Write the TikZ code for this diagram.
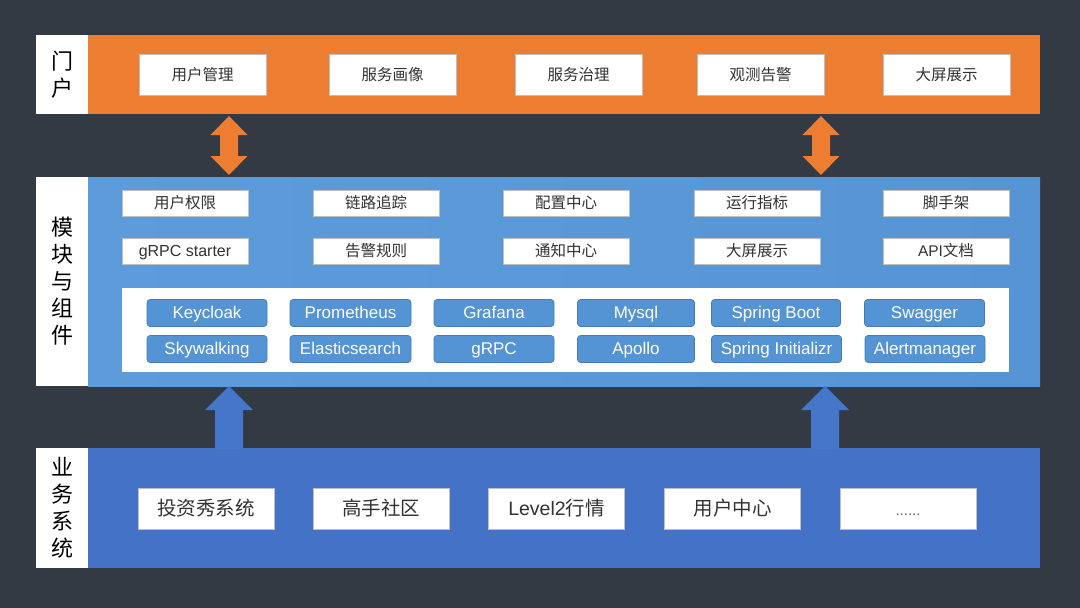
\documentclass[tikz,border=0pt]{standalone}
\usepackage{fontspec}
\setmainfont{Liberation Sans}
\newfontfamily\cjk{Noto Sans CJK SC}
\usetikzlibrary{calc}
\definecolor{bg}{RGB}{52,58,67}
\definecolor{orng}{RGB}{237,125,49}
\definecolor{midblue}{RGB}{86,148,211}
\definecolor{midblueL}{RGB}{93,155,218}
\definecolor{botblue}{RGB}{68,114,198}
\definecolor{pillfill}{RGB}{84,147,212}
\definecolor{pillline}{RGB}{66,122,186}
\definecolor{txt}{RGB}{50,50,50}
\definecolor{arrblue}{RGB}{70,118,202}
\begin{document}
\begin{tikzpicture}[x=1pt,y=-1pt,
  every node/.style={inner sep=0pt,outer sep=0pt},
  bandbox/.style={anchor=north west,minimum height=#1},
  lbl/.style={fill=white,anchor=north west,minimum width=52pt,minimum height=#1,align=center,font=\cjk\fontsize{22}{27}\selectfont,text=black},
  topbox/.style={fill=white,draw=black!25,line width=0.4pt,minimum width=127pt,minimum height=41pt,text=txt,font=\cjk\fontsize{15.5}{16}\selectfont,text height=13pt,text depth=1.2pt},
  midbox/.style={fill=white,draw=black!25,line width=0.4pt,minimum width=126pt,minimum height=26pt,text=txt,font=\cjk\fontsize{15.5}{16}\selectfont,text height=13pt,text depth=1.2pt},
  pill/.style={fill=pillfill,draw=pillline,line width=0.6pt,rounded corners=3pt,minimum width=#1,minimum height=27pt,text=white,font=\fontsize{17}{18}\selectfont,text height=12.4pt,text depth=1.8pt},
  botbox/.style={fill=white,draw=black!25,line width=0.4pt,minimum width=136pt,minimum height=41pt,text=txt,font=\cjk\fontsize{19.5}{20}\selectfont,text height=16.4pt,text depth=1.6pt},
  orarrow/.style={fill=orng},
  blarrow/.style={fill=arrblue}]
\useasboundingbox (0,0) rectangle (1080,608);
\fill[bg] (0,0) rectangle (1080,608);

% ---- bands ----
\node[bandbox=79pt,fill=orng,minimum width=952pt] (portal) at (88,35) {};
\node[lbl=79pt] (portallbl) at (36,35) {门\\户};

\node[bandbox=209pt,minimum width=952pt,left color=midblueL,right color=midblue] (mods) at (88,177) {};
\node[lbl=209pt] (modslbl) at (36,177) {模\\块\\与\\组\\件};

\node[bandbox=120pt,fill=botblue,minimum width=952pt] (biz) at (88,448) {};
\node[lbl=120pt] (bizlbl) at (36,448) {业\\务\\系\\统};

% ---- portal boxes ----
\node[topbox] (p1) at (202.5,74.5) {用户管理};
\node[topbox] (p2) at (392.5,74.5) {服务画像};
\node[topbox] (p3) at (578.5,74.5) {服务治理};
\node[topbox] (p4) at (760.5,74.5) {观测告警};
\node[topbox] (p5) at (946.5,74.5) {大屏展示};

% ---- module boxes ----
\node[midbox] (m1) at (185,203) {用户权限};
\node[midbox] (m2) at (376,203) {链路追踪};
\node[midbox] (m3) at (566,203) {配置中心};
\node[midbox] (m4) at (757,203) {运行指标};
\node[midbox] (m5) at (946,203) {脚手架};
\node[midbox,font=\fontsize{16}{16}\selectfont,text height=11.8pt,text depth=1.4pt] (m6) at (185,251) {gRPC starter};
\node[midbox] (m7) at (376,251) {告警规则};
\node[midbox] (m8) at (566,251) {通知中心};
\node[midbox] (m9) at (757,251) {大屏展示};
\node[midbox] (m10) at (946,251) {{\fontspec{Liberation Sans}API}文档};

% ---- components panel ----
\node[fill=white,minimum width=887pt,minimum height=84pt] (panel) at (565.5,330) {};
\node[pill=120pt] (c1) at (207,313) {Keycloak};
\node[pill=121pt] (c2) at (350.5,313) {Prometheus};
\node[pill=120pt] (c3) at (494,313) {Grafana};
\node[pill=117pt] (c4) at (636,313) {Mysql};
\node[pill=129pt] (c5) at (776,313) {Spring Boot};
\node[pill=120pt] (c6) at (924.5,313) {Swagger};
\node[pill=120pt] (c7) at (207,349) {Skywalking};
\node[pill=121pt] (c8) at (350.5,349) {Elasticsearch};
\node[pill=120pt] (c9) at (494,349) {gRPC};
\node[pill=117pt] (c10) at (636,349) {Apollo};
\node[pill=130pt] (c11) at (776.5,349) {Spring Initializr};
\node[pill=120pt] (c12) at (925,349) {Alertmanager};

% ---- business boxes ----
\node[botbox] (b1) at (206,508.5) {投资秀系统};
\node[botbox] (b2) at (381,508.5) {高手社区};
\node[botbox] (b3) at (556.5,508.5) {{\fontspec{Liberation Sans}Level2}行情};
\node[botbox] (b4) at (732.5,508.5) {用户中心};
\node[botbox,font=\fontsize{15}{16}\selectfont,text=black!60] (b5) at (908,508.5) {......};

% ---- arrows portal <-> modules ----
\coordinate (oa1) at ($(portal.south west)+(141,2)$);
\coordinate (oa2) at ($(portal.south west)+(733,2)$);
\foreach \c in {oa1,oa2}{
  \fill[orarrow] (\c) -- ++(18.5,19) -- ++(-9.5,0) -- ++(0,21) -- ++(9.5,0) -- ++(-18.5,19)
    -- ++(-18.5,-19) -- ++(9.5,0) -- ++(0,-21) -- ++(-9.5,0) -- cycle;
}
% ---- arrows business -> modules ----
\coordinate (ba1) at ($(mods.south west)+(141,0)$);
\coordinate (ba2) at ($(mods.south west)+(737,0)$);
\foreach \c in {ba1,ba2}{
  \fill[blarrow] (\c) -- ++(24,24) -- ++(-10,0) -- ++(0,39) -- ++(-28,0) -- ++(0,-39) -- ++(-10,0) -- cycle;
}
\end{tikzpicture}
\end{document}
